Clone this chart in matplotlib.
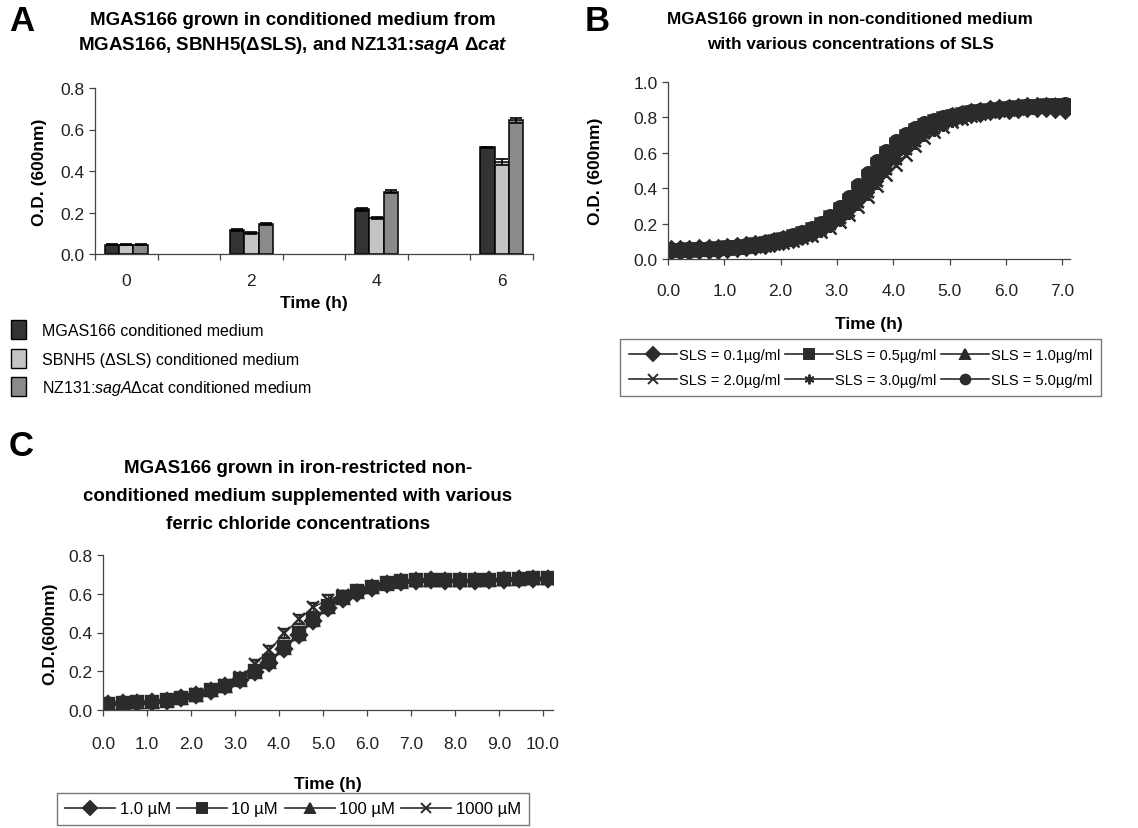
import numpy as np
import matplotlib
matplotlib.use("Agg")
import matplotlib.pyplot as plt
from matplotlib.patches import Patch
from matplotlib.lines import Line2D

plt.rcParams['font.family'] = ['Liberation Sans', 'DejaVu Sans']
plt.rcParams['mathtext.fontset'] = 'custom'
plt.rcParams['mathtext.it'] = 'Liberation Sans:italic'
plt.rcParams['mathtext.bf'] = 'Liberation Sans:italic:bold'
plt.rcParams['mathtext.rm'] = 'Liberation Sans'

# ---- panel A : conditioned medium (bars) ----
a_times = [0, 2, 4, 6]
a_mgas = [0.045, 0.115, 0.215, 0.515]
a_sbnh5 = [0.045, 0.100, 0.175, 0.445]
a_nz131 = [0.045, 0.145, 0.300, 0.645]
a_mgas_err = [0.003, 0.006, 0.008, 0.003]
a_sbnh5_err = [0.003, 0.005, 0.004, 0.015]
a_nz131_err = [0.003, 0.006, 0.008, 0.012]
a_labels = ['MGAS166 conditioned medium',
            'SBNH5 (ΔSLS) conditioned medium',
            'NZ131:$\\mathit{sagA}$Δcat conditioned medium']

# ---- panel B : SLS concentrations ----
b_time = [0.05, 0.22, 0.38, 0.55, 0.72, 0.88, 1.05, 1.22, 1.38, 1.55, 1.72, 1.88,
          2.05, 2.22, 2.38, 2.55, 2.72, 2.88, 3.05, 3.22, 3.38, 3.55, 3.72, 3.88,
          4.05, 4.22, 4.38, 4.55, 4.72, 4.88, 5.05, 5.22, 5.38, 5.55, 5.72, 5.88,
          6.05, 6.22, 6.38, 6.55, 6.72, 6.88, 7.05]
b_sls01 = [0.050, 0.051, 0.052, 0.054, 0.056, 0.058, 0.062, 0.066, 0.071, 0.077, 0.085, 0.094,
           0.105, 0.118, 0.134, 0.153, 0.178, 0.210, 0.250, 0.300, 0.360, 0.425, 0.490, 0.555,
           0.615, 0.665, 0.708, 0.742, 0.768, 0.788, 0.803, 0.815, 0.825, 0.833, 0.839, 0.845,
           0.849, 0.853, 0.856, 0.858, 0.860, 0.852, 0.850]
b_sls05 = [0.052, 0.053, 0.054, 0.056, 0.058, 0.061, 0.065, 0.070, 0.076, 0.083, 0.092, 0.102,
           0.115, 0.130, 0.148, 0.170, 0.198, 0.235, 0.280, 0.335, 0.400, 0.468, 0.535, 0.597,
           0.650, 0.695, 0.730, 0.758, 0.780, 0.797, 0.810, 0.821, 0.830, 0.838, 0.844, 0.849,
           0.854, 0.858, 0.862, 0.865, 0.868, 0.870, 0.872]
b_sls10 = [0.051, 0.052, 0.053, 0.055, 0.057, 0.060, 0.064, 0.068, 0.074, 0.081, 0.089, 0.099,
           0.111, 0.125, 0.142, 0.163, 0.190, 0.225, 0.268, 0.320, 0.382, 0.448, 0.515, 0.578,
           0.633, 0.680, 0.718, 0.748, 0.772, 0.791, 0.806, 0.818, 0.828, 0.836, 0.842, 0.848,
           0.853, 0.857, 0.861, 0.864, 0.867, 0.869, 0.871]
b_sls20 = [0.048, 0.049, 0.050, 0.051, 0.053, 0.055, 0.058, 0.061, 0.065, 0.070, 0.076, 0.083,
           0.092, 0.103, 0.116, 0.132, 0.152, 0.177, 0.208, 0.247, 0.295, 0.350, 0.410, 0.472,
           0.532, 0.588, 0.638, 0.682, 0.718, 0.748, 0.772, 0.791, 0.806, 0.818, 0.828, 0.836,
           0.843, 0.849, 0.854, 0.858, 0.862, 0.865, 0.868]
b_sls30 = [0.049, 0.050, 0.051, 0.052, 0.054, 0.056, 0.059, 0.063, 0.067, 0.072, 0.079, 0.087,
           0.096, 0.108, 0.122, 0.139, 0.160, 0.187, 0.220, 0.262, 0.312, 0.370, 0.432, 0.495,
           0.555, 0.610, 0.658, 0.698, 0.731, 0.757, 0.778, 0.795, 0.809, 0.820, 0.830, 0.838,
           0.845, 0.850, 0.855, 0.859, 0.863, 0.866, 0.869]
b_sls50 = [0.053, 0.054, 0.055, 0.057, 0.060, 0.063, 0.067, 0.072, 0.078, 0.086, 0.095, 0.106,
           0.119, 0.135, 0.154, 0.177, 0.206, 0.245, 0.292, 0.350, 0.416, 0.485, 0.552, 0.612,
           0.664, 0.706, 0.740, 0.766, 0.787, 0.803, 0.816, 0.826, 0.835, 0.842, 0.848, 0.853,
           0.857, 0.861, 0.864, 0.867, 0.870, 0.872, 0.874]
b_labels = ['SLS = 0.1µg/ml', 'SLS = 0.5µg/ml', 'SLS = 1.0µg/ml',
            'SLS = 2.0µg/ml', 'SLS = 3.0µg/ml', 'SLS = 5.0µg/ml']

# ---- panel C : ferric chloride ----
c_time = [0.12, 0.45, 0.78, 1.12, 1.45, 1.78, 2.12, 2.45, 2.78, 3.12, 3.45, 3.78, 4.12,
          4.45, 4.78, 5.12, 5.45, 5.78, 6.12, 6.45, 6.78, 7.12, 7.45, 7.78, 8.12, 8.45,
          8.78, 9.12, 9.45, 9.78, 10.12]
c_fe1 = [0.030, 0.035, 0.038, 0.040, 0.048, 0.060, 0.078, 0.100, 0.122, 0.155, 0.195, 0.245,
         0.315, 0.385, 0.460, 0.525, 0.575, 0.605, 0.630, 0.650, 0.662, 0.668, 0.670, 0.668,
         0.668, 0.668, 0.670, 0.672, 0.676, 0.678, 0.678]
c_fe10 = [0.032, 0.037, 0.040, 0.042, 0.050, 0.062, 0.080, 0.102, 0.125, 0.158, 0.200, 0.255,
          0.325, 0.395, 0.470, 0.535, 0.582, 0.612, 0.636, 0.655, 0.665, 0.670, 0.672, 0.670,
          0.670, 0.670, 0.672, 0.675, 0.678, 0.680, 0.680]
c_fe100 = [0.031, 0.036, 0.039, 0.041, 0.049, 0.061, 0.079, 0.101, 0.123, 0.156, 0.197, 0.250,
           0.320, 0.390, 0.465, 0.530, 0.578, 0.608, 0.633, 0.652, 0.663, 0.669, 0.671, 0.669,
           0.669, 0.669, 0.671, 0.674, 0.677, 0.679, 0.679]
c_fe1000 = [0.030, 0.035, 0.038, 0.041, 0.049, 0.062, 0.082, 0.105, 0.130, 0.168, 0.238, 0.308,
            0.395, 0.468, 0.530, 0.570, 0.595, 0.612, 0.633, 0.650, 0.660, 0.665, 0.668, 0.667,
            0.667, 0.667, 0.669, 0.672, 0.676, 0.678, 0.678]
c_err = [0.004, 0.004, 0.004, 0.004, 0.005, 0.006, 0.008, 0.010, 0.012, 0.015, 0.018, 0.020,
         0.022, 0.024, 0.024, 0.022, 0.020, 0.020, 0.020, 0.020, 0.020, 0.020, 0.020, 0.020,
         0.020, 0.020, 0.020, 0.020, 0.020, 0.020, 0.020]
c_labels = ['1.0 µM', '10 µM', '100 µM', '1000 µM']

W, H = 1138, 829
ink = '#2b2b2b'
fig = plt.figure(figsize=(W / 100, H / 100), dpi=100)


def axes_px(left, top, right, bottom):
    return fig.add_axes([left / W, 1 - bottom / H, (right - left) / W, (bottom - top) / H])


def style(ax):
    for s in ['top', 'right']:
        ax.spines[s].set_visible(False)
    for s in ['left', 'bottom']:
        ax.spines[s].set_color('#444444')
        ax.spines[s].set_linewidth(0.9)
    ax.tick_params(direction='out', length=4, width=0.9, color='#444444',
                   labelsize=12.5, labelcolor='#222222')


# panel A
ax = axes_px(95, 89, 533, 255)
style(ax)
bw = 0.23
x = np.array(a_times)
for off, vals, err, col in [(-bw, a_mgas, a_mgas_err, '#333333'),
                            (0, a_sbnh5, a_sbnh5_err, '#c4c4c4'),
                            (bw, a_nz131, a_nz131_err, '#8a8a8a')]:
    ax.bar(x + off, vals, bw, yerr=err, color=col, edgecolor='black', linewidth=1.1,
           error_kw=dict(ecolor='black', elinewidth=1.2, capsize=4, capthick=1.2))
ax.set_xlim(-0.5, 6.5)
ax.set_ylim(0, 0.8)
ax.set_yticks([0, 0.2, 0.4, 0.6, 0.8])
ax.yaxis.set_major_formatter(plt.FormatStrFormatter('%.1f'))
ax.set_xticks(np.arange(-0.5, 6.6, 1))
ax.set_xticklabels([])
ax.set_xticks(a_times, minor=True)
ax.set_xticklabels([str(t) for t in a_times], minor=True)
ax.tick_params(axis='x', which='minor', length=0, pad=14, labelsize=12.5, labelcolor='#222222')
ax.set_ylabel('O.D. (600nm)', fontsize=12.5, fontweight='bold', labelpad=10)
ax.set_xlabel('Time (h)', fontsize=12.5, fontweight='bold', labelpad=5)

handles = [Patch(facecolor=c, edgecolor='black') for c in ['#333333', '#c4c4c4', '#8a8a8a']]
fig.legend(handles, a_labels, loc='upper left', bbox_to_anchor=(0.004, 1 - 315 / H),
           frameon=False, fontsize=11.5, handlelength=0.95, handleheight=1.45,
           labelspacing=0.6, handletextpad=1.0, borderaxespad=0)

fig.text(9 / W, 1 - 5 / H, 'A', fontsize=25, fontweight='bold', va='top')
fig.text(293 / W, 1 - 12 / H,
         'MGAS166 grown in conditioned medium from\n'
         'MGAS166, SBNH5(ΔSLS), and NZ131:$\\mathbf{sagA}$ Δ$\\mathbf{cat}$',
         ha='center', va='top', fontsize=13.5, fontweight='bold', linespacing=1.4)

# panel B
ax = axes_px(668, 83, 1070, 260)
style(ax)
markers_b = ['D', 's', '^', 'x', (6, 2, 0), 'o']
for vals, m, lab in zip([b_sls01, b_sls05, b_sls10, b_sls20, b_sls30, b_sls50], markers_b, b_labels):
    ax.plot(b_time, vals, color=ink, marker=m, markersize=9, markeredgewidth=1.8,
            linewidth=1, label=lab)
ax.set_xlim(0, 7.14)
ax.set_ylim(0, 1.0)
ax.set_xticks(np.arange(0, 7.5, 1))
ax.set_yticks(np.arange(0, 1.05, 0.2))
ax.xaxis.set_major_formatter(plt.FormatStrFormatter('%.1f'))
ax.yaxis.set_major_formatter(plt.FormatStrFormatter('%.1f'))
ax.tick_params(axis='x', pad=13)
ax.set_ylabel('O.D. (600nm)', fontsize=12.5, fontweight='bold', labelpad=22)
ax.set_xlabel('Time (h)', fontsize=12.5, fontweight='bold', labelpad=13)
b_handles = [Line2D([], [], color=ink, marker=m, markersize=7, markeredgewidth=1.4, lw=1.2)
             for m in markers_b]
# matplotlib fills legend columns first, so interleave to get the row order
order = [0, 3, 1, 4, 2, 5]
leg = fig.legend([b_handles[i] for i in order], [b_labels[i] for i in order],
                 loc='upper left', bbox_to_anchor=(620 / W, 1 - 340 / H),
                 ncol=3, fontsize=10.5, frameon=True, fancybox=False, edgecolor='#555555',
                 handlelength=3.3, handletextpad=0.15, columnspacing=0.3, labelspacing=0.8,
                 borderpad=0.6, borderaxespad=0)
leg.get_frame().set_linewidth(1.0)

fig.text(585 / W, 1 - 5 / H, 'B', fontsize=25, fontweight='bold', va='top')
fig.text(850 / W, 1 - 12 / H,
         'MGAS166 grown in non-conditioned medium\nwith various concentrations of SLS',
         ha='center', va='top', fontsize=12.3, fontweight='bold', linespacing=1.85)

# panel C
ax = axes_px(103, 556, 553, 711)
style(ax)
markers_c = ['D', 's', '^', 'x']
for vals, m, lab in zip([c_fe1, c_fe10, c_fe100, c_fe1000], markers_c, c_labels):
    ax.errorbar(c_time, vals, yerr=c_err, color=ink, marker=m, markersize=8.5,
                markeredgewidth=1.7, linewidth=1, capsize=3.5, elinewidth=1, label=lab)
ax.set_xlim(0, 10.23)
ax.set_ylim(0, 0.8)
ax.set_xticks(np.arange(0, 10.5, 1))
ax.set_yticks([0, 0.2, 0.4, 0.6, 0.8])
ax.xaxis.set_major_formatter(plt.FormatStrFormatter('%.1f'))
ax.yaxis.set_major_formatter(plt.FormatStrFormatter('%.1f'))
ax.tick_params(axis='x', pad=15)
ax.set_ylabel('O.D.(600nm)', fontsize=12.5, fontweight='bold', labelpad=8)
ax.set_xlabel('Time (h)', fontsize=12.5, fontweight='bold', labelpad=18)
c_handles = [Line2D([], [], color=ink, marker=m, markersize=7, markeredgewidth=1.4, lw=1.2)
             for m in markers_c]
leg = fig.legend(c_handles, c_labels, loc='upper left', bbox_to_anchor=(57 / W, 1 - 794 / H),
                 ncol=4, fontsize=12, frameon=True, fancybox=False, edgecolor='#555555',
                 handlelength=3.0, handletextpad=0.25, columnspacing=0.4,
                 borderpad=0.5, borderaxespad=0)
leg.get_frame().set_linewidth(1.0)

fig.text(9 / W, 1 - 430 / H, 'C', fontsize=25, fontweight='bold', va='top')
fig.text(298 / W, 1 - 460 / H,
         'MGAS166 grown in iron-restricted non-\n'
         'conditioned medium supplemented with various\n'
         'ferric chloride concentrations',
         ha='center', va='top', fontsize=13.5, fontweight='bold', linespacing=1.85)

fig.savefig('out.png', dpi=100)
